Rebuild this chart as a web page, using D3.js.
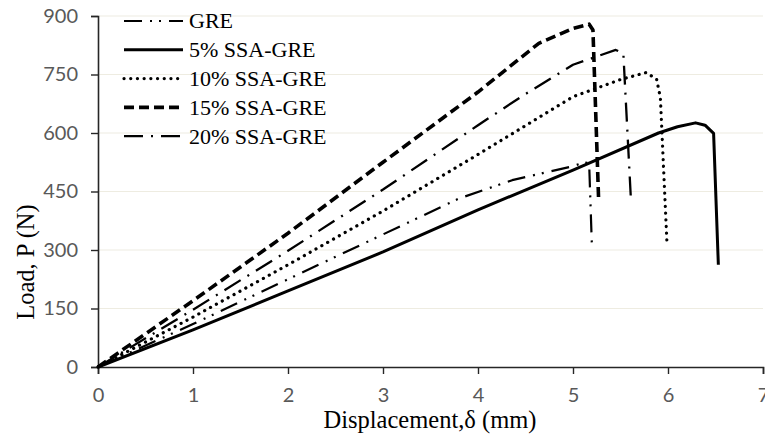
<!DOCTYPE html>
<html>
<head>
<meta charset="utf-8">
<script src="https://cdn.jsdelivr.net/npm/d3@7"></script>
<style>
  body { margin: 0; background: #fff; }
  .tick-label { font-family: Lato, "Open Sans", sans-serif; font-size: 20px; fill: #595959; }
  .axis-title { font-family: "Liberation Serif", "Times New Roman", serif; font-size: 24.5px; fill: #000; }
  .legend-text { font-family: "Liberation Serif", "Times New Roman", serif; font-size: 22px; fill: #000; }
</style>
</head>
<body>
<svg id="chart"></svg>
<script>
// tick values
const xTicks = [0, 1, 2, 3, 4, 5, 6, 7];
const yTicks = [0, 150, 300, 450, 600, 750, 900];

// series (displacement in mm, load in N)
const seriesNames = ["GRE", "5% SSA-GRE", "10% SSA-GRE", "15% SSA-GRE", "20% SSA-GRE"];

const greX = [0, 1, 2, 3, 3.8, 4.36, 5.0, 5.12, 5.17, 5.2];
const greY = [0, 110, 225, 340, 432, 479, 515, 525, 522, 302];

const ssa5X = [0, 1, 2, 3, 4, 5, 5.9, 6.1, 6.29, 6.39, 6.48, 6.53];
const ssa5Y = [0, 95, 195, 295, 403, 505, 600, 616, 626, 620, 599, 262];

const ssa10X = [0, 1, 2, 3, 4, 5, 5.5, 5.77, 5.88, 5.92, 5.99];
const ssa10Y = [0, 128, 262, 400, 545, 693, 737, 755, 738, 690, 313];

const ssa15X = [0, 1, 2, 3, 4, 4.64, 5.0, 5.17, 5.21, 5.27];
const ssa15Y = [0, 170, 343, 525, 705, 830, 868, 879, 864, 426];

const ssa20X = [0, 1, 2, 3, 4, 4.5, 5.0, 5.45, 5.53, 5.61];
const ssa20Y = [0, 147, 298, 455, 620, 700, 775, 813, 804, 428];

const seriesX = [greX, ssa5X, ssa10X, ssa15X, ssa20X];
const seriesY = [greY, ssa5Y, ssa10Y, ssa15Y, ssa20Y];

// line look per series
const lineStyle = [
    { width: 2.2, dash: "18,8,2,7,2,8", cap: "butt" },
    { width: 3, dash: null, cap: "butt" },
    { width: 3.2, dash: "0.1,6.6", cap: "round" },
    { width: 3.6, dash: "10,5", cap: "butt" },
    { width: 2.3, dash: "19,8,2,8", cap: "butt" }
];

const width = 765, height = 438;
const svg = d3.select("#chart").attr("width", width).attr("height", height);

const x = d3.scaleLinear().domain([0, 7]).range([98, 763]);
const y = d3.scaleLinear().domain([0, 900]).range([367, 16]);

// gridlines
svg.append("g")
    .selectAll("line")
    .data(yTicks.filter(d => d > 0))
    .enter().append("line")
    .attr("x1", x(0)).attr("x2", x(7))
    .attr("y1", d => y(d)).attr("y2", d => y(d))
    .attr("stroke", "#eeece1")
    .attr("stroke-width", 1.2);

// axes
const yAxis = d3.axisLeft(y).tickValues(yTicks).tickFormat(d3.format("d")).tickSize(7).tickPadding(13);
const xAxis = d3.axisBottom(x).tickValues(xTicks).tickFormat(d3.format("d")).tickSize(7).tickPadding(14);

const gy = svg.append("g").attr("transform", `translate(${x(0)},0)`).call(yAxis);
const gx = svg.append("g").attr("transform", `translate(0,${y(0)})`).call(xAxis);

[gx, gy].forEach(g => {
    g.attr("font-size", null).attr("font-family", null);
    g.select(".domain").attr("stroke", "#262626").attr("stroke-width", 1.6);
    g.selectAll(".tick line").attr("stroke", "#262626").attr("stroke-width", 1.4);
    g.selectAll(".tick text").attr("class", "tick-label").attr("fill", null);
});

// curves
const line = d3.line().x(d => x(d[0])).y(d => y(d[1]));

seriesNames.forEach((name, i) => {
    const pts = seriesX[i].map((v, j) => [v, seriesY[i][j]]);
    const st = lineStyle[i];
    svg.append("path")
        .datum(pts)
        .attr("d", line)
        .attr("fill", "none")
        .attr("stroke", "#000")
        .attr("stroke-width", st.width)
        .attr("stroke-linecap", st.cap)
        .attr("stroke-linejoin", "round")
        .attr("stroke-dasharray", st.dash);
});

// legend
const legendX = 124, legendY = 21, legendStep = 28.8, legendLen = 59;
seriesNames.forEach((name, i) => {
    const st = lineStyle[i];
    const ly = legendY + i * legendStep;
    svg.append("line")
        .attr("x1", legendX).attr("x2", legendX + legendLen)
        .attr("y1", ly).attr("y2", ly)
        .attr("stroke", "#000")
        .attr("stroke-width", st.width)
        .attr("stroke-linecap", st.cap)
        .attr("stroke-dasharray", st.dash);
    svg.append("text")
        .attr("class", "legend-text")
        .attr("x", legendX + legendLen + 6)
        .attr("y", ly)
        .attr("dy", "0.34em")
        .text(name);
});

// axis titles
svg.append("text")
    .attr("class", "axis-title")
    .attr("x", 430).attr("y", 428)
    .attr("text-anchor", "middle")
    .text("Displacement,δ (mm)");

svg.append("text")
    .attr("class", "axis-title")
    .attr("transform", "translate(34,262) rotate(-90)")
    .attr("text-anchor", "middle")
    .text("Load, P (N)");
</script>
</body>
</html>
